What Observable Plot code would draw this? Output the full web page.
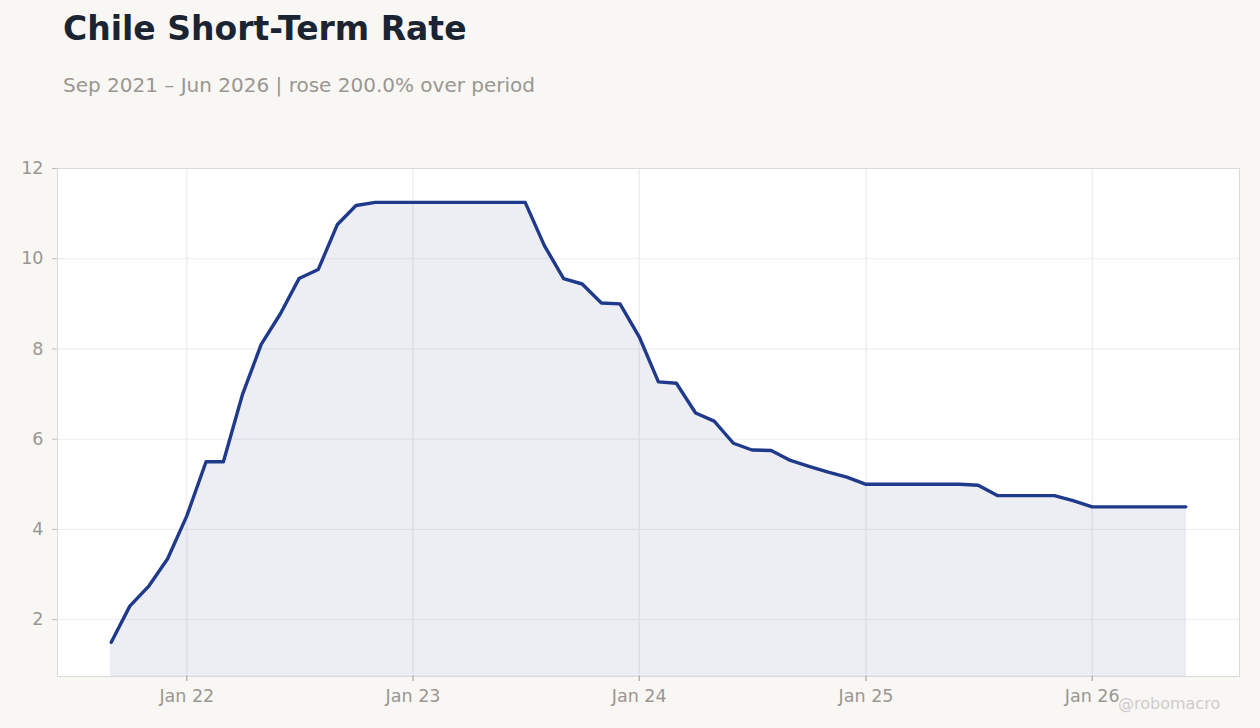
<!DOCTYPE html>
<html>
<head>
<meta charset="utf-8">
<script src="https://cdn.jsdelivr.net/npm/d3@7"></script>
<script src="https://cdn.jsdelivr.net/npm/@observablehq/plot@0.6"></script>
<style>
  html, body { margin: 0; padding: 0; background: #f8f7f4; width: 1260px; height: 728px; overflow: hidden; font-family: "DejaVu Sans", sans-serif; }
  #wrap { position: relative; width: 1260px; height: 728px; }
  #title { position: absolute; left: 63px; top: 9px; font-size: 33px; font-weight: bold; color: #1b2432; }
  #subtitle { position: absolute; left: 63px; top: 73px; font-size: 20px; color: #9a9692; }
  #chart { position: absolute; left: 0; top: 150px; }
  #credit { position: absolute; left: 1118px; top: 694px; font-size: 16px; color: #cfcccb; }
</style>
</head>
<body>
<div id="wrap">
  <div id="title">Chile Short-Term Rate</div>
  <div id="subtitle">Sep 2021 – Jun 2026 | rose 200.0% over period</div>
  <div id="chart"></div>
  <div id="credit">@robomacro</div>
</div>
<script>
const startMonth = "2021-09";
const rates = [
  1.50, 2.30, 2.75, 3.35,
  4.30, 5.50, 5.50, 7.00, 8.10, 8.78, 9.56, 9.76, 10.76, 11.18, 11.25, 11.25,
  11.25, 11.25, 11.25, 11.25, 11.25, 11.25, 11.25, 10.29, 9.56, 9.44, 9.02, 9.00,
  8.27, 7.27, 7.24, 6.58, 6.40, 5.91, 5.76, 5.75, 5.53, 5.40, 5.27, 5.16,
  5.00, 5.00, 5.00, 5.00, 5.00, 5.00, 4.98, 4.75, 4.75, 4.75, 4.75, 4.64,
  4.50, 4.50, 4.50, 4.50, 4.50, 4.50
];
const yTicks = [2, 4, 6, 8, 10, 12];
const xTickYears = [2022, 2023, 2024, 2025, 2026];

const start = new Date(startMonth + "-01T00:00:00");
const data = rates.map((v, i) => ({ date: d3.timeMonth.offset(start, i), value: v }));
const first = data[0].date, last = data[data.length - 1].date;
const pad = (last - first) * 0.05;
const xDomain = [new Date(+first - pad), new Date(+last + pad)];
const yDomain = [0.74, 12];
const xTicks = xTickYears.map(y => new Date(y, 0, 1));
const lineColor = "#1f3a8a";

const chart = Plot.plot({
  width: 1260,
  height: 578,
  marginTop: 18,
  marginBottom: 52,
  marginLeft: 57,
  marginRight: 21,
  style: { background: "transparent", fontFamily: "DejaVu Sans, sans-serif", fontSize: "17.5px", color: "#9a9692" },
  x: { type: "time", domain: xDomain, label: null },
  y: { domain: yDomain, label: null },
  marks: [
    Plot.frame({ fill: "white", stroke: "none" }),
    Plot.gridX(xTicks, { stroke: "#e6e6ea", strokeOpacity: 1 }),
    Plot.gridY(yTicks, { stroke: "#ececee", strokeOpacity: 1 }),
    Plot.areaY(data, { x: "date", y1: yDomain[0], y2: "value", fill: "#1c2b6e", fillOpacity: 0.08, stroke: lineColor, strokeOpacity: 0.08 }),
    Plot.lineY(data, { x: "date", y: "value", stroke: lineColor, strokeWidth: 3.4 }),
    Plot.frame({ stroke: "#dcdad6", strokeWidth: 1 }),
    Plot.axisX({ ticks: xTicks, tickFormat: d3.timeFormat("%b %y"), tickSize: 5, tickPadding: 8, stroke: "#9a9692", fill: "#9a9692" }),
    Plot.axisY({ ticks: yTicks, tickSize: 5, tickPadding: 9, stroke: "#bbb", fill: "#9a9692" })
  ]
});
document.getElementById("chart").appendChild(chart);
</script>
</body>
</html>
